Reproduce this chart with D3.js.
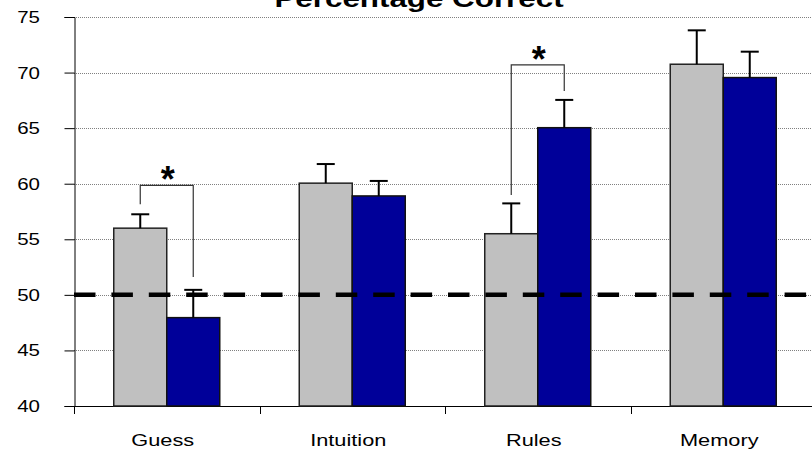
<!DOCTYPE html>
<html>
<head>
<meta charset="utf-8">
<script src="https://cdn.jsdelivr.net/npm/d3@7"></script>
<style>
  html, body { margin: 0; padding: 0; background: #fff; }
  svg { display: block; }
  text { font-family: Arial, "Liberation Sans", Helvetica, sans-serif; fill: #000; }
</style>
</head>
<body>
<svg id="chart" width="812" height="451"></svg>
<script>
// ---- data ----
const categories = ["Guess", "Intuition", "Rules", "Memory"];
const seriesGray = [56.0, 60.05, 55.5, 70.75];
const seriesGrayErr = [1.25, 1.72, 2.73, 3.05];
const seriesBlue = [47.95, 58.9, 65.04, 69.55];
const seriesBlueErr = [2.5, 1.35, 2.5, 2.33];
const yTicks = [40, 45, 50, 55, 60, 65, 70, 75];
const chanceLevel = 50;
const sigCategories = ["Guess", "Rules"];
const sigTop = [59.85, 70.7];
const sigLeftEnd = [58.15, 58.98];
const sigRightEnd = [51.6, 68.35];
const titleText = "Percentage Correct";

// ---- layout ----
const svg = d3.select("#chart");
const plotLeft = 74, plotRight = 816, plotTop = 17, plotBottom = 406;
const sx = 1.28; // horizontal stretch of text in the reference

const x = d3.scaleBand().domain(categories).range([plotLeft, plotRight]);
const y = d3.scaleLinear().domain([40, 75]).range([plotBottom, plotTop]);
const barW = 53;
const center = c => x(c) + x.bandwidth() / 2;

function stretchedText(g, tx, ty, str, size, weight, anchor, scaleX) {
  return g.append("text")
    .attr("transform", `translate(${tx},${ty}) scale(${scaleX == null ? sx : scaleX},1)`)
    .attr("text-anchor", anchor)
    .style("font-size", size + "px")
    .style("font-weight", weight)
    .text(str);
}

// gridlines
svg.append("g").selectAll("line")
  .data(yTicks.filter(t => t > 40))
  .join("line")
  .attr("x1", plotLeft).attr("x2", 812)
  .attr("y1", d => Math.round(y(d)) + 0.5).attr("y2", d => Math.round(y(d)) + 0.5)
  .attr("stroke", "#808080").attr("stroke-width", 1)
  .attr("stroke-dasharray", "1,1");

// y axis
const yAxis = d3.axisLeft(y).tickValues(yTicks).tickSize(10).tickFormat("");
const yg = svg.append("g").attr("transform", `translate(${plotLeft + 0.5},0)`).call(yAxis);
yg.select(".domain").attr("stroke", "#000");
yg.selectAll(".tick line").attr("stroke", "#000");
const yl = svg.append("g");
yTicks.forEach(t => stretchedText(yl, 40, y(t) + 6, String(t), 16, "normal", "end"));

// x axis
const xAxis = d3.axisBottom(x).tickSize(0).tickFormat("");
const xg = svg.append("g").attr("transform", `translate(0,${plotBottom + 0.5})`).call(xAxis);
xg.select(".domain").attr("stroke", "#000").attr("d", `M${plotLeft},0H812`);
const boundaries = categories.map(c => x(c)).concat([plotRight]);
svg.append("g").selectAll("line").data(boundaries).join("line")
  .attr("x1", d => Math.round(d) + 0.5).attr("x2", d => Math.round(d) + 0.5)
  .attr("y1", plotBottom).attr("y2", plotBottom + 8)
  .attr("stroke", "#000");
const xl = svg.append("g");
categories.forEach(c => stretchedText(xl, center(c) - 4, 446, c, 17, "normal", "middle"));

// bars
const bars = svg.append("g");
bars.selectAll("rect.gray").data(categories).join("rect")
  .attr("class", "gray")
  .attr("x", c => center(c) - barW)
  .attr("y", (c, i) => y(seriesGray[i]))
  .attr("width", barW)
  .attr("height", (c, i) => plotBottom - y(seriesGray[i]))
  .attr("fill", "#c0c0c0").attr("stroke", "#222").attr("stroke-width", 1.5);
bars.selectAll("rect.blue").data(categories).join("rect")
  .attr("class", "blue")
  .attr("x", c => center(c))
  .attr("y", (c, i) => y(seriesBlue[i]))
  .attr("width", barW)
  .attr("height", (c, i) => plotBottom - y(seriesBlue[i]))
  .attr("fill", "#000099").attr("stroke", "#111").attr("stroke-width", 1.5);

// error bars
function errorBars(vals, errs, offset) {
  const g = svg.append("g").attr("stroke", "#000").attr("stroke-width", 2);
  categories.forEach((c, i) => {
    const cx = center(c) + offset;
    g.append("line").attr("x1", cx).attr("x2", cx)
      .attr("y1", y(vals[i])).attr("y2", y(vals[i] + errs[i]));
    g.append("line").attr("x1", cx - 9).attr("x2", cx + 9)
      .attr("y1", y(vals[i] + errs[i])).attr("y2", y(vals[i] + errs[i]));
  });
}
errorBars(seriesGray, seriesGrayErr, -barW / 2);
errorBars(seriesBlue, seriesBlueErr, barW / 2);

// chance line
svg.append("line")
  .attr("x1", plotLeft).attr("x2", 812)
  .attr("y1", y(chanceLevel)).attr("y2", y(chanceLevel))
  .attr("stroke", "#000").attr("stroke-width", 4.5)
  .attr("stroke-dasharray", "21.5,15.9");

// significance brackets
const sg = svg.append("g");
sigCategories.forEach((c, i) => {
  const lx = center(c) - barW / 2, rx = center(c) + barW / 2;
  sg.append("path")
    .attr("d", `M${lx},${y(sigLeftEnd[i])}V${y(sigTop[i])}H${rx}V${y(sigRightEnd[i])}`)
    .attr("fill", "none").attr("stroke", "#333").attr("stroke-width", 1.2);
  stretchedText(sg, (lx + rx) / 2 + 1, y(sigTop[i]) + 7, "*", 36, "bold", "middle", 1);
});

// title
stretchedText(svg, 419, 7, titleText, 24.5, "bold", "middle");
</script>
</body>
</html>
